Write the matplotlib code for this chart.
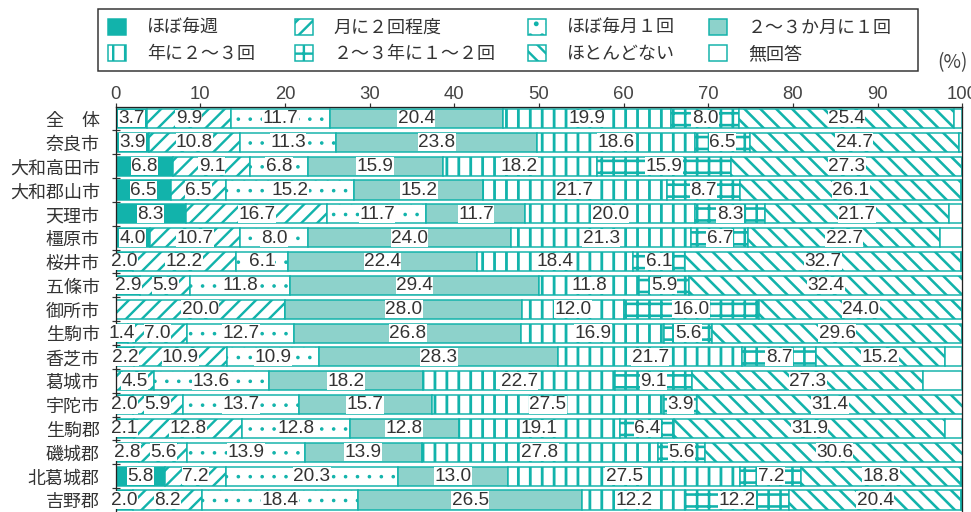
import matplotlib
matplotlib.use("Agg")
import matplotlib.pyplot as plt
from matplotlib.patches import Patch, Rectangle
import numpy as np

# data (%)
areas = ["全　体", "奈良市", "大和高田市", "大和郡山市", "天理市", "橿原市", "桜井市",
         "五條市", "御所市", "生駒市", "香芝市", "葛城市", "宇陀市", "生駒郡",
         "磯城郡", "北葛城郡", "吉野郡"]
weekly = [3.7, 3.9, 6.8, 6.5, 8.3, 4.0, 2.0, 2.9, 0.0, 1.4, 2.2, 0.0, 2.0, 2.1, 2.8, 5.8, 2.0]
twice_month = [9.9, 10.8, 9.1, 6.5, 16.7, 10.7, 12.2, 5.9, 20.0, 7.0, 10.9, 4.5, 5.9, 12.8, 5.6, 7.2, 8.2]
monthly = [11.7, 11.3, 6.8, 15.2, 11.7, 8.0, 6.1, 11.8, 0.0, 12.7, 10.9, 13.6, 13.7, 12.8, 13.9, 20.3, 18.4]
few_months = [20.4, 23.8, 15.9, 15.2, 11.7, 24.0, 22.4, 29.4, 28.0, 26.8, 28.3, 18.2, 15.7, 12.8, 13.9, 13.0, 26.5]
few_per_year = [19.9, 18.6, 18.2, 21.7, 20.0, 21.3, 18.4, 11.8, 12.0, 16.9, 21.7, 22.7, 27.5, 19.1, 27.8, 27.5, 12.2]
few_years = [8.0, 6.5, 15.9, 8.7, 8.3, 6.7, 6.1, 5.9, 16.0, 5.6, 8.7, 9.1, 3.9, 6.4, 5.6, 7.2, 12.2]
rarely = [25.4, 24.7, 27.3, 26.1, 21.7, 22.7, 32.7, 32.4, 24.0, 29.6, 15.2, 27.3, 31.4, 31.9, 30.6, 18.8, 20.4]
no_answer = [1.0, 0.4, 0.0, 0.1, 1.6, 2.6, 0.1, 0.0, 0.0, 0.0, 2.1, 4.6, 0.0, 2.1, 0.0, 0.2, 0.1]

legend_labels = ["ほぼ毎週", "月に２回程度", "ほぼ毎月１回", "２～３か月に１回",
                 "年に２～３回", "２～３年に１～２回", "ほとんどない", "無回答"]

# dpi chosen so the hatch grid (dpi/6 px) matches the row pitch
DPI = 143
PT = 72 / DPI  # points per pixel
W, H = 971, 512
TEAL = "#12b3ab"
LIGHT = "#8dd2cb"

plt.rcParams["hatch.linewidth"] = 2.4 * PT
plt.rcParams["hatch.color"] = TEAL
cjk = ["Noto Sans CJK JP", "DejaVu Sans"]
num_font = ["Liberation Sans", "DejaVu Sans"]

series = [weekly, twice_month, monthly, few_months, few_per_year, few_years, rarely, no_answer]
styles = [
    dict(facecolor=TEAL, hatch=None, hlw=2.4),
    dict(facecolor="white", hatch="///", hlw=2.4),
    dict(facecolor="white", hatch="..", hlw=1.2),
    dict(facecolor=LIGHT, hatch=None, hlw=2.4),
    dict(facecolor="white", hatch="||", hlw=2.8),
    dict(facecolor="white", hatch="++", hlw=2.6),
    dict(facecolor="white", hatch="\\\\\\", hlw=2.6),
    dict(facecolor="white", hatch=None, hlw=2.4),
]


def set_hlw(patch, px):
    if hasattr(patch, "set_hatch_linewidth"):
        patch.set_hatch_linewidth(px * PT)


fig = plt.figure(figsize=((W + 0.3) / DPI, (H + 0.3) / DPI), dpi=DPI)
pitch = DPI / 6
ax_h = pitch * 16.97
ax = fig.add_axes([115.7 / W, 0.05 / H, (962 - 115.7) / W, ax_h / H])

y = np.arange(len(areas))
left = np.zeros(len(areas))
for i, (vals, st) in enumerate(zip(series, styles)):
    vals = np.array(vals)
    bars = ax.barh(y, vals, left=left, height=0.8, color=st["facecolor"], hatch=st["hatch"],
                   edgecolor=TEAL, linewidth=1.5 * PT, zorder=2)
    for b in bars:
        set_hlw(b, st["hlw"])
    if i < 7:
        for yy, l, v in zip(y, left, vals):
            if v > 0:
                ax.text(l + v / 2, yy, f"{v:.1f}", ha="center", va="center",
                        fontsize=19 * PT, family=num_font, color="#333333", zorder=4,
                        bbox=dict(facecolor="white", edgecolor="none", pad=0.2))
    left = left + vals

ax.set_xlim(0, 100)
ax.set_ylim(16.5, -0.47)
ax.xaxis.tick_top()
ax.set_xticks(np.arange(0, 101, 10))
ax.tick_params(axis="x", direction="out", length=4 * PT, width=1.2 * PT, pad=1 * PT,
               labelsize=18.5 * PT, colors="#333333")
for lab in ax.get_xticklabels():
    lab.set_family(num_font)
    lab.set_color("#444444")

ax.set_yticks(y)
ax.set_yticklabels(areas, family=cjk, fontsize=18 * PT, color="#333333")
ax.set_yticks(y[:-1] + 0.5, minor=True)
ax.tick_params(axis="y", which="major", length=0, pad=16 * PT)
ax.tick_params(axis="y", which="minor", direction="inout", length=8 * PT, width=1.2 * PT,
               colors="#333333")
ax.spines["bottom"].set_visible(False)
for s in ["top", "left", "right"]:
    ax.spines[s].set_linewidth(1.3 * PT)
    ax.spines[s].set_color("#222222")

fig.text(952 / W, 1 - 63 / H, "(%)", ha="center", va="center", family=cjk,
         fontsize=19 * PT, color="#444444")

# legend: one column each, inside a hand-placed frame
handles = []
for st in styles:
    h = Patch(facecolor=st["facecolor"], hatch=st["hatch"], edgecolor=TEAL, linewidth=1.5 * PT)
    set_hlw(h, st["hlw"])
    handles.append(h)
col_x = [108, 295, 528, 709]
for c in range(4):
    idx = [c, c + 4]
    leg = fig.legend([handles[k] for k in idx], [legend_labels[k] for k in idx],
                     ncol=1, loc="upper left", bbox_to_anchor=(col_x[c] / W, 1 - 18.8 / H),
                     borderaxespad=0, borderpad=0, frameon=False,
                     prop=dict(family=cjk, size=18 * PT), handlelength=1.0, handleheight=1.0,
                     handletextpad=1.15, labelspacing=0.45)
    for t in leg.get_texts():
        t.set_color("#333333")
fig.add_artist(Rectangle((98 / W, 1 - 71 / H), 820 / W, 62 / H, transform=fig.transFigure,
                         fill=False, edgecolor="#333333", linewidth=1.5 * PT))

fig.savefig("out.png", dpi=DPI)
